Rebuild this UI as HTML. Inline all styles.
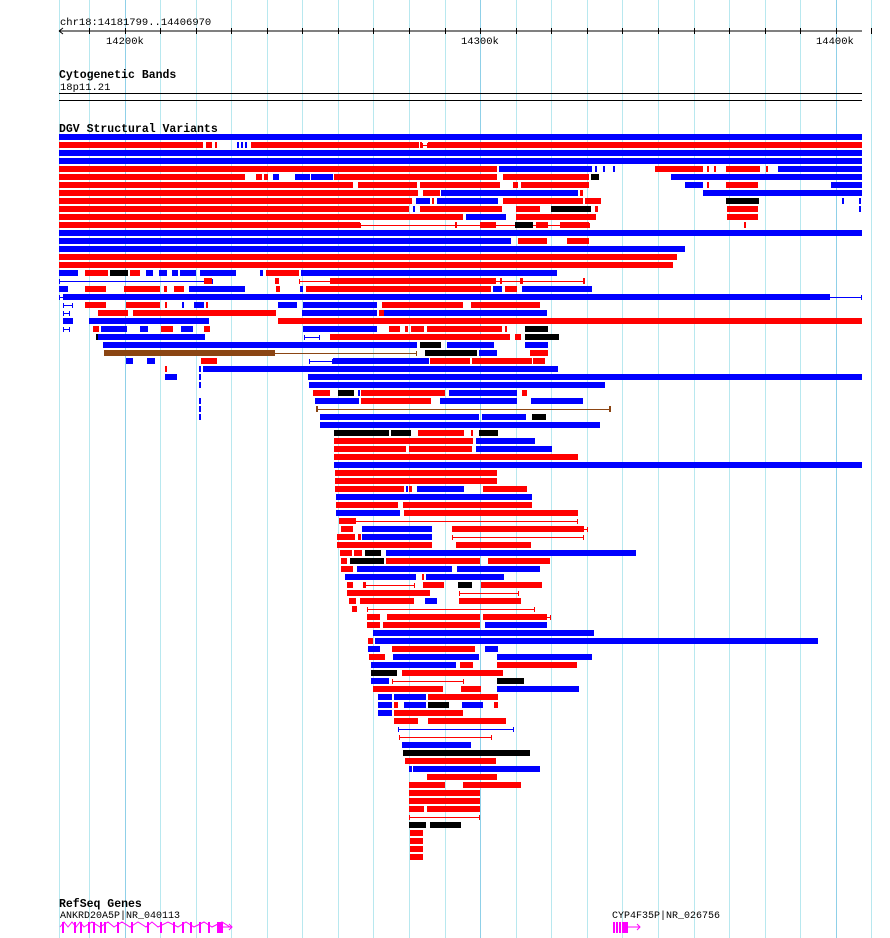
<!DOCTYPE html>
<html><head><meta charset="utf-8"><style>
body{margin:0;background:#fff}
svg{display:block}
text{font-family:"Liberation Mono","DejaVu Sans Mono",monospace;fill:#000}
</style></head><body>
<svg id="s" width="890" height="938" xmlns="http://www.w3.org/2000/svg">
<rect width="890" height="938" fill="#fff"/>
<g id="grid"></g>
<text x="60" y="25" font-size="10.5">chr18:14181799..14406970</text>
<line x1="59" y1="31" x2="862" y2="31" stroke="#000"/>
<path d="M59 31 L63 28 M59 31 L63 34" stroke="#000" fill="none"/>
<g id="ticks"></g>
<text x="106" y="44" font-size="10.5">14200k</text>
<text x="461" y="44" font-size="10.5">14300k</text>
<text x="816" y="44" font-size="10.5">14400k</text>
<text x="59" y="78" font-size="11.5" font-weight="bold">Cytogenetic Bands</text>
<text x="60" y="90" font-size="10.5">18p11.21</text>
<line x1="59" y1="93.5" x2="862" y2="93.5" stroke="#000"/>
<line x1="59" y1="100.5" x2="862" y2="100.5" stroke="#000"/>
<text x="59" y="132" font-size="11.5" font-weight="bold">DGV Structural Variants</text>
<g id="bars"></g>
<text x="59" y="907" font-size="11.5" font-weight="bold">RefSeq Genes</text>
<text x="60" y="918" font-size="10">ANKRD20A5P|NR_040113</text>
<text x="612" y="918" font-size="10">CYP4F35P|NR_026756</text>
<g id="genes" stroke="#f0f" fill="#f0f"></g>
</svg>
<script>
var NS="http://www.w3.org/2000/svg";
function el(p,t,a){var e=document.createElementNS(NS,t);for(var k in a)e.setAttribute(k,a[k]);document.getElementById(p).appendChild(e);return e;}
for(var i=0;i<23;i++){var x=Math.round(89+35.56*i)+0.5;var maj=(i==1||i==11||i==21);
el("grid","line",{x1:x,y1:0,x2:x,y2:938,stroke:maj?"#8fd0e8":"#b8e8ef"});
el("ticks","line",{x1:x,y1:28,x2:x,y2:34,stroke:"#000"});}
el("grid","line",{x1:59.5,y1:0,x2:59.5,y2:938,stroke:"#b8e8ef"});
var C={B:"#0000ff",R:"#ff0000",K:"#000000",N:"#8b4513"};
// rows: y, list of segments "C x1 x2" ; lowercase = thin line
var D=[
[134,"B59-862"],
[142,"R59-203 R206-212 R215-217 B237-239 B241-243 B245-247 R251-419 R420-422 r422-428 R428-862"],
[150,"B59-862"],[158,"B59-862"],
[166,"R59-497 B499-592 B595-597 B603-605 B613-615 R655-703 R707-709 R714-716 R726-760 R766-768 B778-862"],
[174,"R59-245 R256-262 R264-268 B273-279 B295-310 B311-333 R334-497 R503-589 K591-599 B671-862"],
[182,"R59-353 R358-417 R420-500 R513-518 R521-589 B685-703 R707-709 R726-758 B831-862"],
[190,"R59-418 R423-440 B441-578 R580-583 B703-862"],
[198,"R59-412 B416-430 R432-434 B437-498 R503-583 R585-601 K726-759 B842-844 B859-861"],
[206,"R59-409 B413-415 R420-502 R516-540 K551-591 R595-598 R727-758 B859-861"],
[214,"R59-463 B466-506 R516-596 R727-758"],
[222,"r360-590 R59-360 R455-457 R480-496 K515-533 R536-548 R560-589 R744-746"],
[230,"B59-862"],
[238,"B59-511 R518-547 R567-589"],
[246,"B59-685"],[254,"R59-677"],[262,"R59-673"],
[270,"B59-78 R85-108 K110-128 R130-140 B146-153 B159-167 B172-178 B180-196 B200-236 B260-263 R266-299 B301-557"],
[278,"b59-213 R204-212 R275-279 r299-585 R330-496 R500-502 R520-523 R583-585"],
[286,"B59-68 R85-106 R124-160 R164-167 R174-184 B189-245 R276-280 B300-303 R306-491 B493-502 R505-517 B522-592"],
[294,"b59-862 B63-830"],
[302,"b63-73 R85-106 R126-160 R165-167 B182-184 B194-204 R206-208 B278-297 B303-377 R382-463 R471-540"],
[310,"b63-70 R98-128 R133-276 B302-377 R379-384 B384-547"],
[318,"B63-73 B89-209 R278-862"],
[326,"b63-70 R93-99 B101-127 B140-148 R161-173 B181-193 R204-210 B303-377 R389-400 R405-408 R411-424 R427-502 R505-507 K525-548"],
[334,"K96-98 B98-205 b304-320 R330-510 R515-521 K525-559"],
[342,"B103-417 K420-441 B447-494 B525-548"],
[350,"n104-417 N104-275 K425-477 B479-497 R530-548"],
[358,"B126-133 B147-155 R201-217 b309-333 B333-429 R430-470 R472-532 R533-545"],
[366,"R165-167 B199-201 B203-558"],
[374,"B165-177 B199-201 B308-862"],
[382,"B199-201 B309-605"],
[390,"R313-330 K338-354 B358-360 R361-445 B449-517 R522-527"],
[398,"B199-201 B315-359 R361-431 B440-517 B531-583"],
[406,"B199-201 n316-611 N316-318 N609-611"],
[414,"B199-201 B320-479 B482-526 K532-546"],
[422,"B320-600"],
[430,"K334-389 K391-411 R418-464 R471-473 K479-498"],
[438,"R334-473 B476-535"],
[446,"R334-406 R409-472 B476-552"],
[454,"R334-578"],[462,"B334-862"],[470,"R335-497"],[478,"R335-497"],
[486,"R335-404 B406-408 R409-412 B417-464 R483-527"],
[494,"B336-532"],[502,"R336-398 R403-532"],[510,"B336-400 R404-578"],
[518,"r339-578 R339-356"],
[526,"R341-353 B362-432 r452-588 R452-584"],
[534,"R337-355 R358-361 B362-432 r452-584"],
[542,"R337-432 R456-531"],
[550,"R340-352 R354-362 K365-381 B386-636"],
[558,"R341-347 K350-384 R386-480 R488-550"],
[566,"R341-353 B357-452 B457-540"],
[574,"B345-416 R422-424 B426-504"],
[582,"R347-353 r363-415 R363-366 R423-444 K458-472 R481-542"],
[590,"R347-430 r459-519"],
[598,"R349-356 R360-414 B425-437 R459-521"],
[606,"R352-357 r367-535"],
[614,"R367-380 R387-480 r483-551 R483-547"],
[622,"R367-380 R383-480 B485-547"],
[630,"B373-594"],[638,"R368-373 B375-818"],
[646,"B368-380 R392-475 B485-498"],
[654,"R369-385 B393-479 B497-592"],
[662,"B371-456 R460-473 R497-577"],
[670,"K371-397 R402-503"],
[678,"B371-389 r392-464 K497-524"],
[686,"R373-443 R461-481 B497-579"],
[694,"B378-392 B394-426 R428-498"],
[702,"B378-392 R394-398 B404-426 K428-449 B462-483 R494-498"],
[710,"B378-392 R394-463"],
[718,"R394-418 R428-506"],
[726,"b398-514"],[734,"r399-492"],[742,"B402-471"],[750,"K403-530"],
[758,"R405-496"],[766,"B409-412 B413-540"],[774,"R427-497"],
[782,"R409-445 R463-521"],[790,"R409-480"],[798,"R409-480"],
[806,"R409-424 R427-480"],[814,"r409-480"],[822,"K409-426 K430-461"],
[830,"R410-423"],[838,"R410-423"],[846,"R410-423"],[854,"R410-423"]
];
D.forEach(function(r){var y=r[0];r[1].split(" ").forEach(function(s){var c=s[0],p=s.slice(1).split("-"),a=+p[0],b=+p[1];
if(c==c.toLowerCase()){var col=C[c.toUpperCase()];el("bars","line",{x1:a,y1:y+3.5,x2:b,y2:y+3.5,stroke:col});
el("bars","line",{x1:a+0.5,y1:y+1,x2:a+0.5,y2:y+6,stroke:col});el("bars","line",{x1:b-0.5,y1:y+1,x2:b-0.5,y2:y+6,stroke:col});}
else el("bars","rect",{x:a,y:y,width:b-a,height:6,fill:C[c]});});});
// genes
var g="genes";
el(g,"path",{d:"M60 927 L64 922 L68 927 L72 922 L76 927 L80 922 L84 927 L92 922 L100 927 L108 922 L114 927 L122 922 L130 927 L138 922 L146 927 L152 922 L158 927 L168 922 L178 927 L186 922 L194 927 L204 922 L212 927 L222 922 L230 927",fill:"none","stroke-width":"1"});
[62,74,80,88,93,100,104,117,131,147,160,173,182,190,199,208].forEach(function(x){el(g,"rect",{x:x,y:922,width:2,height:11,stroke:"none"});});
el(g,"rect",{x:217,y:922,width:6,height:11,stroke:"none"});
el(g,"path",{d:"M223 927 L232 927 M229 924 L232 927 L229 930",fill:"none"});
[613,616,619,622].forEach(function(x){el(g,"rect",{x:x,y:922,width:2,height:11,stroke:"none"});});
el(g,"rect",{x:624,y:922,width:4,height:11,stroke:"none"});
el(g,"path",{d:"M628 927 L640 927 M637 924 L640 927 L637 930",fill:"none"});
</script>
</body></html>
